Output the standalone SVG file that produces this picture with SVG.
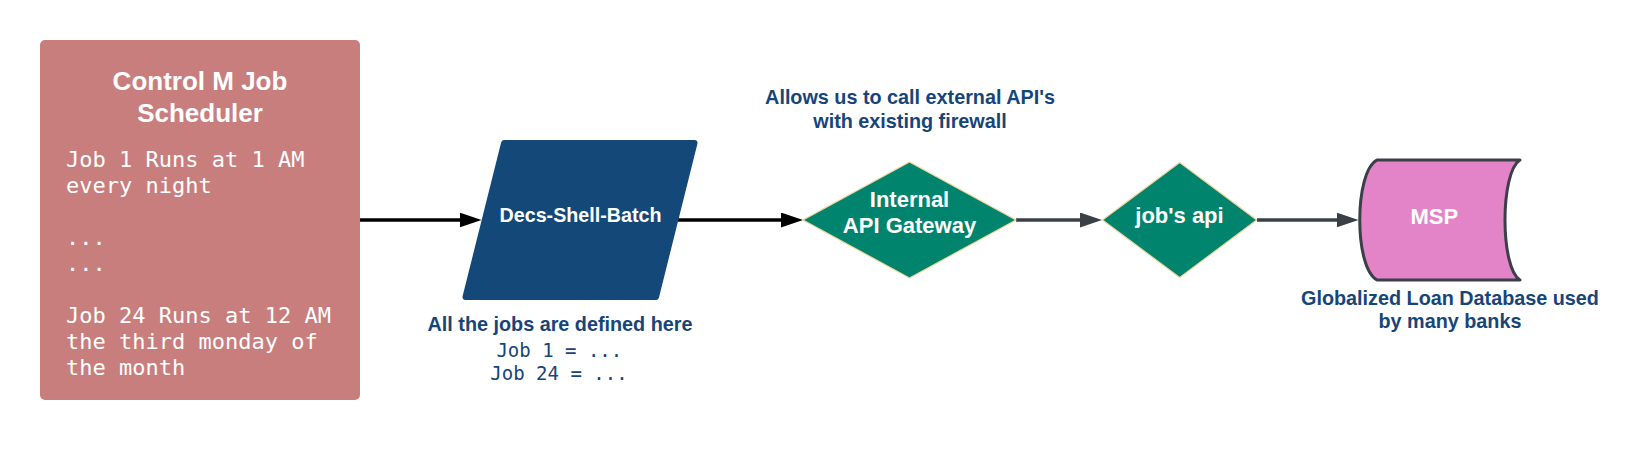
<svg xmlns="http://www.w3.org/2000/svg" width="1650" height="453" viewBox="0 0 1650 453">
<defs>
<style>
.sans{font-family:"Liberation Sans",Arial,sans-serif;font-weight:bold}
.mono{font-family:"DejaVu Sans Mono","Liberation Mono",monospace}
.wt{fill:#ffffff}
.lbl{fill:#16457a;font-size:19.8px}
.ctr{text-anchor:middle}
.blk{stroke:#000000;stroke-width:3.5;fill:none}
.gry{stroke:#3a3f48;stroke-width:3.5;fill:none}
.dia{fill:#00846e;stroke:#f2d69c;stroke-width:1.2;stroke-linejoin:round}
</style>
<marker id="ahB" markerUnits="userSpaceOnUse" markerWidth="22" markerHeight="15" refX="2" refY="7.5" orient="auto"><path d="M0,0 L22,7.5 L0,15 z" fill="#000000"/></marker>
<marker id="ahG" markerUnits="userSpaceOnUse" markerWidth="22" markerHeight="15" refX="2" refY="7.5" orient="auto"><path d="M0,0 L22,7.5 L0,15 z" fill="#3a3f48"/></marker>
</defs>
<rect width="1650" height="453" fill="#ffffff"/>
<g id="connectors">
<line class="blk" x1="360" y1="220" x2="461.5" y2="220" marker-end="url(#ahB)"/>
<line class="blk" x1="678" y1="220" x2="783" y2="220" marker-end="url(#ahB)"/>
<line class="gry" x1="1016" y1="220" x2="1082" y2="220" marker-end="url(#ahG)"/>
<line class="gry" x1="1257" y1="220" x2="1338.5" y2="220" marker-end="url(#ahG)"/>
</g>
<g id="scheduler">
<rect x="40" y="40" width="320" height="360" rx="5" fill="#c97e7e"/>
<text class="sans wt ctr" x="200" y="90" font-size="26">Control M Job</text>
<text class="sans wt ctr" x="200" y="122" font-size="26">Scheduler</text>
<g class="mono wt" font-size="22">
<text x="66" y="167">Job 1 Runs at 1 AM</text>
<text x="66" y="193">every night</text>
<text x="66" y="245">...</text>
<text x="66" y="271">...</text>
<text x="66" y="323">Job 24 Runs at 12 AM</text>
<text x="66" y="349">the third monday of</text>
<text x="66" y="375">the month</text>
</g>
</g>
<g id="batch">
<polygon points="504.1,143 694.5,143 656,297 465.5,297" fill="#134879" stroke="#134879" stroke-width="6" stroke-linejoin="round"/>
<text class="sans wt ctr" x="580.5" y="222" font-size="19.7">Decs-Shell-Batch</text>
<text class="sans lbl ctr" x="560" y="331">All the jobs are defined here</text>
<text class="mono ctr" x="559.3" y="357" font-size="19" fill="#16457a">Job 1 = ...</text>
<text class="mono ctr" x="559" y="380" font-size="19" fill="#16457a">Job 24 = ...</text>
</g>
<g id="gateway">
<text class="sans lbl ctr" x="910" y="104">Allows us to call external API's</text>
<text class="sans lbl ctr" x="910" y="128">with existing firewall</text>
<polygon class="dia" points="803,220 909.5,162 1016,220 909.5,278"/>
<text class="sans wt ctr" x="909.5" y="207" font-size="22">Internal</text>
<text class="sans wt ctr" x="909.5" y="233" font-size="22">API Gateway</text>
</g>
<g id="jobsapi">
<polygon class="dia" points="1102.5,220 1179.7,162.5 1256.7,220 1179.7,277.5"/>
<text class="sans wt ctr" x="1179.5" y="223" font-size="22">job's api</text>
</g>
<g id="msp">
<path d="M1377,160 L1520,160 C1500,172 1500,268 1520,280 L1377,280 C1354,268 1354,172 1377,160 Z" fill="#e383c8" stroke="#3a3f48" stroke-width="3" stroke-linejoin="round"/>
<text class="sans wt ctr" x="1434.3" y="224" font-size="22">MSP</text>
<text class="sans lbl ctr" x="1450" y="305">Globalized Loan Database used</text>
<text class="sans lbl ctr" x="1450" y="328">by many banks</text>
</g>
</svg>
